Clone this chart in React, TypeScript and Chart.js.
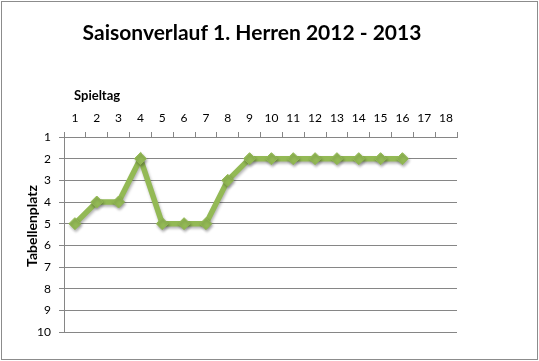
import React, { useEffect, useRef } from "react";
import { Chart, registerables } from "chart.js";

Chart.register(...registerables);

const TITLE = "Saisonverlauf 1. Herren 2012 - 2013";
const X_TITLE = "Spieltag";
const Y_TITLE = "Tabellenplatz";
const SPIELTAGE = ["1", "2", "3", "4", "5", "6", "7", "8", "9", "10", "11", "12", "13", "14", "15", "16", "17", "18"];
const PLATZ = [5, 4, 4, 2, 5, 5, 5, 3, 2, 2, 2, 2, 2, 2, 2, 2];
const Y_MIN = 1;
const Y_MAX = 10;

const FONT = "Lato, 'Open Sans', sans-serif";
const GRID = "#868686";
const GREEN = "#93B955";

export default function App() {
  const ref = useRef<HTMLCanvasElement>(null);

  useEffect(() => {
    document.body.style.margin = "0";
    const canvas = ref.current;
    if (!canvas) return;

    const shadowPlugin = {
      id: "shadow",
      beforeDatasetsDraw(chart: any) {
        const ctx = chart.ctx;
        ctx.save();
        ctx.shadowColor = "rgba(0,0,0,0.3)";
        ctx.shadowBlur = 3;
        ctx.shadowOffsetX = 1;
        ctx.shadowOffsetY = 2;
      },
      afterDatasetsDraw(chart: any) {
        chart.ctx.restore();
      },
    };

    const textPlugin = {
      id: "texts",
      afterDraw(chart: any) {
        const ctx = chart.ctx;
        const a = chart.chartArea;
        ctx.save();
        ctx.fillStyle = "#000";
        ctx.textBaseline = "middle";
        ctx.font = `bold 21px ${FONT}`;
        ctx.textAlign = "center";
        ctx.fillText(TITLE, 252, 33);
        ctx.font = `bold 13px ${FONT}`;
        ctx.textAlign = "left";
        ctx.fillText(X_TITLE, a.left + 10, 96);
        ctx.font = `bold 14px ${FONT}`;
        ctx.translate(32, 226);
        ctx.rotate(-Math.PI / 2);
        ctx.textAlign = "center";
        ctx.fillText(Y_TITLE, 0, 0);
        ctx.restore();

        ctx.save();
        ctx.strokeStyle = "#8c8c8c";
        ctx.lineWidth = 1;
        ctx.strokeRect(1.5, 1.5, chart.width - 3, chart.height - 3);
        ctx.restore();
      },
    };

    const chart = new Chart(canvas, {
      type: "line",
      data: {
        labels: SPIELTAGE,
        datasets: [
          {
            data: PLATZ,
            borderColor: GREEN,
            backgroundColor: GREEN,
            borderWidth: 5.5,
            pointStyle: "rectRot",
            pointRadius: 6,
            pointBorderWidth: 1,
            pointBorderColor: GREEN,
            tension: 0,
            fill: false,
          },
        ],
      },
      options: {
        responsive: false,
        animation: false,
        events: [],
        layout: { padding: { top: 100, right: 82, bottom: 29, left: 0 } },
        plugins: {
          legend: { display: false },
          title: { display: false },
          tooltip: { enabled: false },
        },
        scales: {
          x: {
            position: "top",
            offset: true,
            grid: { offset: true, drawOnChartArea: false, drawTicks: true, tickLength: 5, color: GRID },
            border: { color: GRID },
            ticks: { color: "#000", font: { family: FONT, size: 12 }, padding: 7, maxRotation: 0, autoSkip: false },
            afterFit: (s: any) => {
              s.height = 37;
            },
          },
          y: {
            reverse: true,
            min: Y_MIN,
            max: Y_MAX,
            ticks: { stepSize: 1, color: "#000", font: { family: FONT, size: 12 }, padding: 8 },
            grid: { color: GRID, tickLength: 5 },
            border: { color: GRID },
            afterFit: (s: any) => {
              s.width = 64;
            },
          },
        },
      },
      plugins: [shadowPlugin, textPlugin],
    } as any);

    return () => chart.destroy();
  }, []);

  return <canvas ref={ref} width={539} height={361} style={{ display: "block" }} />;
}
